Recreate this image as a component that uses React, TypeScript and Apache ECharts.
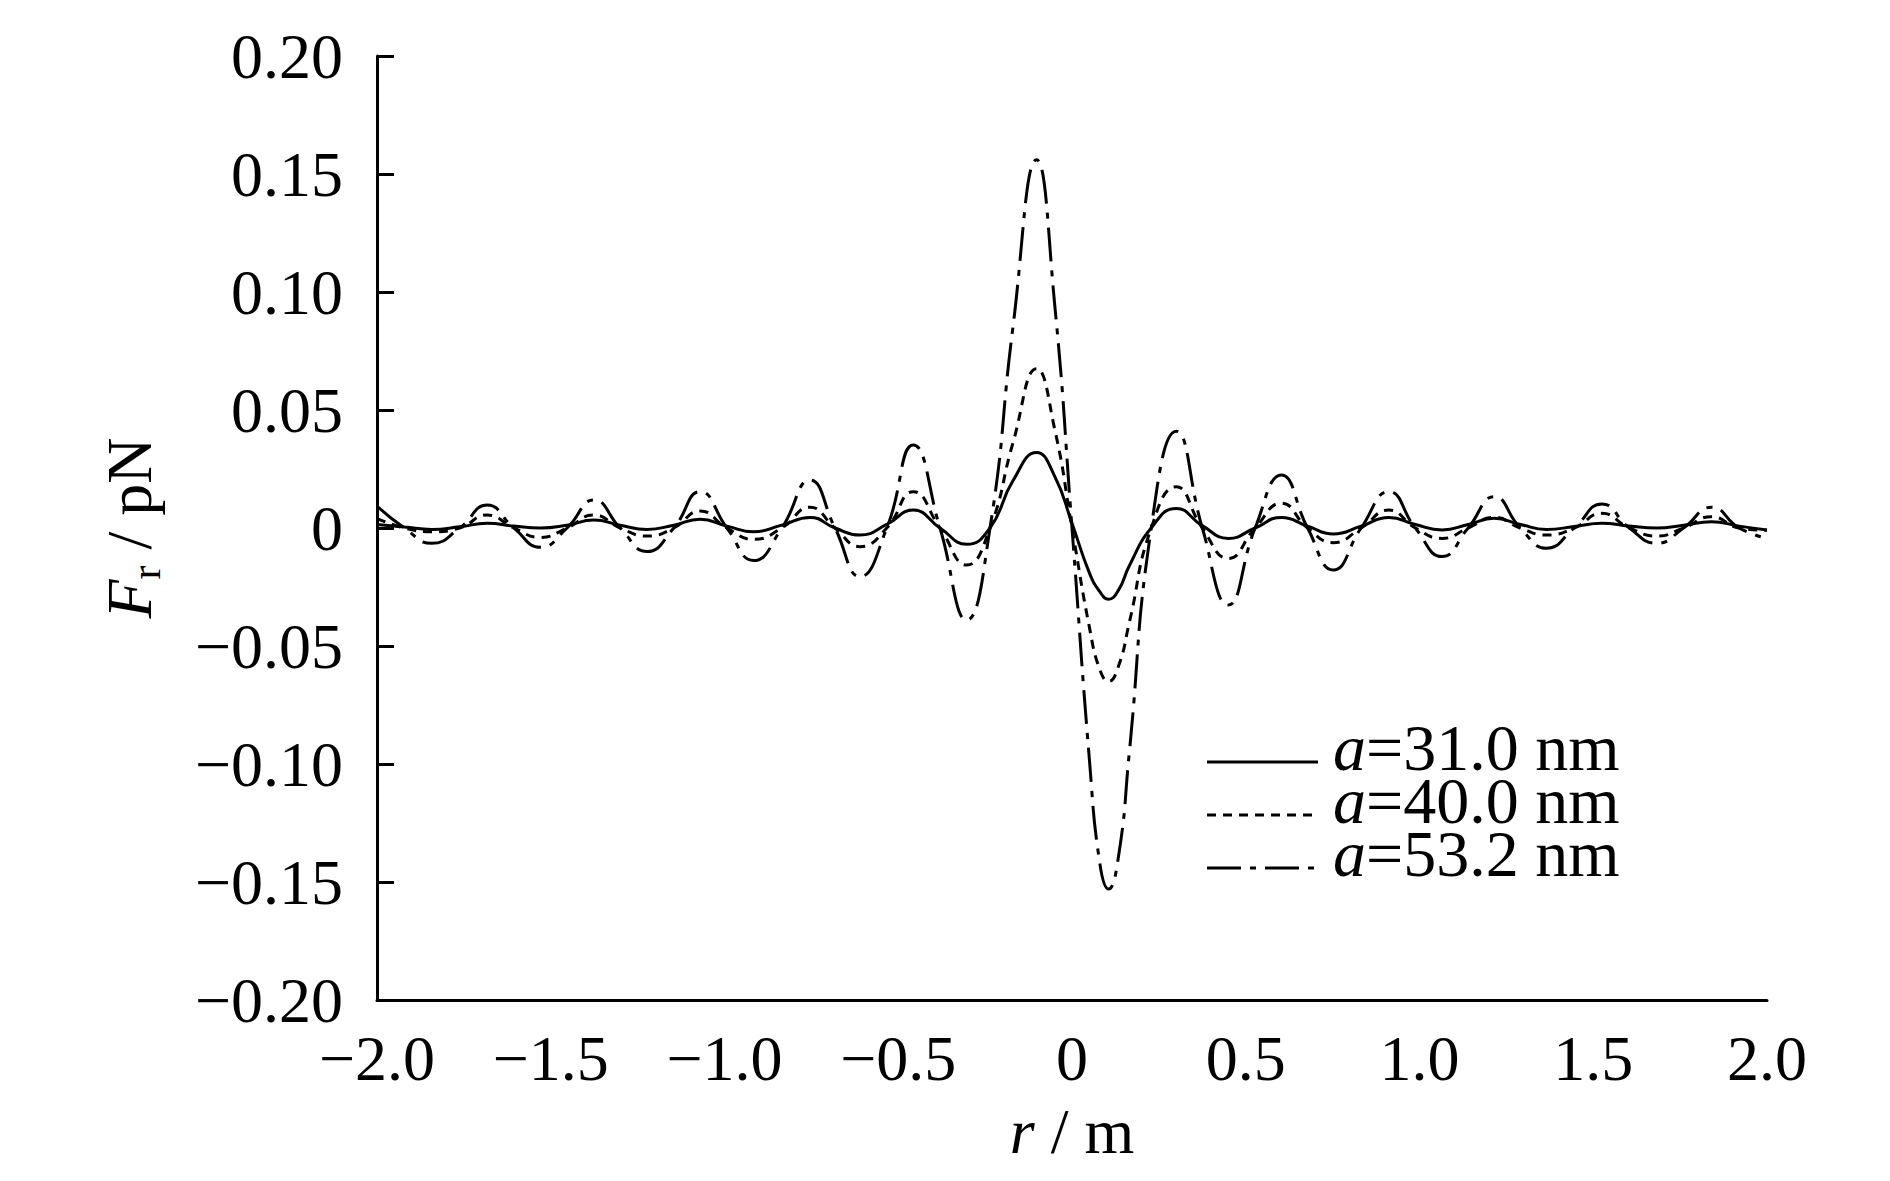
import React, { useEffect, useRef } from 'react';
import * as echarts from 'echarts';

// r values (m)
const R = [
  -2.0, -1.921, -1.842, -1.762, -1.683, -1.606, -1.53, -1.453, -1.376, -1.3, -1.223, -1.146,
  -1.07, -0.993, -0.916, -0.835, -0.754, -0.682, -0.61, -0.533, -0.457, -0.38, -0.303,
  -0.236, -0.17, -0.102, -0.05, 0.0, 0.05, 0.08, 0.105, 0.135, 0.165, 0.228,
  0.3, 0.375, 0.45, 0.527, 0.603, 0.678, 0.752, 0.832, 0.912, 0.988, 1.065, 1.14,
  1.215, 1.29, 1.366, 1.445, 1.525, 1.604, 1.683, 1.76, 1.84, 1.92, 2.0,
];

// a = 31.0 nm (solid)
const A31 = [
  0.0015, 0.0004, -0.0006, 0.0005, 0.002, 0.0008, 0.0, 0.0012, 0.0034, 0.0012, -0.0006, 0.0012,
  0.0037, 0.0008, -0.0016, 0.0012, 0.0045, 0.0, -0.003, 0.0015, 0.0076, 0.0, -0.0069,
  0.0, 0.02, 0.032, 0.022, 0.002, -0.019, -0.027, -0.0302, -0.026, -0.016, 0.0,
  0.0083, 0.001, -0.0044, 0.0, 0.0045, 0.0008, -0.0025, 0.0008, 0.0045, 0.0015, -0.0008, 0.0015,
  0.0041, 0.0015, -0.0006, 0.0006, 0.002, 0.0008, 0.0, 0.0012, 0.0027, 0.0008, -0.0008,
];

// a = 40.0 nm (dotted)
const A40 = [
  0.004, 0, -0.0016, 0, 0.0055, 0, -0.004, 0, 0.0055, 0, -0.0034, 0,
  0.0072, 0, -0.0048, 0, 0.0088, 0, -0.0079, 0, 0.0154, 0, -0.0157,
  0, 0.036, 0.0675, 0.042, 0, -0.042, -0.06, -0.065, -0.058, -0.04, 0,
  0.0175, 0, -0.0129, 0, 0.0105, 0, -0.0062, 0, 0.0076, 0, -0.0044, 0,
  0.0045, 0, -0.003, 0, 0.0062, 0, -0.0034, 0, 0.0048, 0, -0.001,
];

// a = 53.2 nm (dash-dot)
const A53 = [
  0.0093, 0, -0.0065, 0, 0.0097, 0, -0.0082, 0, 0.0119, 0, -0.01, 0,
  0.0154, 0, -0.0138, 0, 0.0203, 0, -0.0206, 0, 0.0352, 0, -0.039,
  0, 0.085, 0.156, 0.095, 0, -0.098, -0.142, -0.153, -0.138, -0.095, 0,
  0.041, 0, -0.0326, 0, 0.0225, 0, -0.0178, 0, 0.0154, 0, -0.0121, 0,
  0.0133, 0, -0.0086, 0, 0.0102, 0, -0.0065, 0, 0.0088, 0, -0.0044,
];

const SERIES_NAMES = ['a=31.0 nm', 'a=40.0 nm', 'a=53.2 nm'];
const DASHES: any[] = ['solid', [9, 7], [34, 9, 6, 9]];

const FONT = '"Liberation Serif", "Times New Roman", Times, serif';

const fmtX = (v: number) => {
  if (Math.abs(v) < 1e-9) return '0';
  const s = Math.abs(v).toFixed(1);
  return v < 0 ? '\u2212' + s : s;
};
const fmtY = (v: number) => {
  if (Math.abs(v) < 1e-9) return '0';
  const s = Math.abs(v).toFixed(2);
  return v < 0 ? '\u2212' + s : s;
};

export default function App() {
  const ref = useRef<HTMLDivElement>(null);
  useEffect(() => {
    if (!ref.current) return;
    const chart = echarts.init(ref.current, null, { renderer: 'svg' });
    const mk = (vals: number[]) => R.map((r, i) => [r, vals[i]]);
    const datas = [A31, A40, A53];

    // legend drawn as graphic (line sample + label)
    const legendEls: any[] = [];
    SERIES_NAMES.forEach((name, k) => {
      const y = 762 + k * 53;
      legendEls.push({
        type: 'line',
        shape: { x1: 1207, y1: y, x2: 1318, y2: y },
        style: {
          stroke: '#000',
          lineWidth: 3,
          lineDash: DASHES[k] === 'solid' ? null : DASHES[k],
        },
        silent: true,
      });
      legendEls.push({
        type: 'text',
        x: 1333,
        y: y - 15,
        style: {
          text: `{i|a}${name.slice(1)}`,
          fontFamily: FONT,
          fontSize: 66,
          lineHeight: 50,
          fill: '#000',
          verticalAlign: 'middle',
          align: 'left',
          rich: {
            i: { fontStyle: 'italic', fontFamily: FONT, fontSize: 66, lineHeight: 50, fill: '#000' },
          },
        },
        silent: true,
      });
    });

    chart.setOption({
      animation: false,
      backgroundColor: '#fff',
      grid: { left: 377, right: 123, top: 56, bottom: 181, containLabel: false },
      graphic: legendEls,
      xAxis: {
        type: 'value',
        min: -2,
        max: 2,
        interval: 0.5,
        name: '{i|r} / m',
        nameLocation: 'middle',
        nameGap: 99,
        nameTextStyle: {
          fontFamily: FONT,
          fontSize: 64,
          color: '#000',
          lineHeight: 64,
          rich: { i: { fontStyle: 'italic', fontSize: 64, fontFamily: FONT, color: '#000', lineHeight: 64 } },
        },
        axisLine: { onZero: false, lineStyle: { color: '#000', width: 3 } },
        axisTick: { show: false },
        splitLine: { show: false },
        axisLabel: {
          formatter: fmtX,
          fontFamily: FONT,
          fontSize: 64,
          color: '#000',
          margin: 26,
          lineHeight: 64,
        },
      },
      yAxis: {
        type: 'value',
        min: -0.2,
        max: 0.2,
        interval: 0.05,
        name: '{i|F}{s|r} / pN',
        nameLocation: 'middle',
        nameGap: 210,
        nameTextStyle: {
          fontFamily: FONT,
          fontSize: 64,
          color: '#000',
          lineHeight: 76,
          rich: {
            i: { fontStyle: 'italic', fontSize: 64, fontFamily: FONT, color: '#000', lineHeight: 76 },
            s: { fontSize: 42, fontFamily: FONT, color: '#000', lineHeight: 42, verticalAlign: 'bottom' },
          },
        },
        axisLine: { show: true, onZero: false, lineStyle: { color: '#000', width: 3 } },
        axisTick: { show: true, inside: true, length: 17, lineStyle: { color: '#000', width: 3 } },
        splitLine: { show: false },
        axisLabel: {
          formatter: fmtY,
          fontFamily: FONT,
          fontSize: 64,
          color: '#000',
          margin: 34,
        },
      },
      series: SERIES_NAMES.map((name, k) => ({
        name,
        type: 'line',
        data: mk(datas[k]),
        smooth: true,
        symbol: 'none',
        showSymbol: false,
        color: '#000',
        lineStyle: { color: '#000', width: 3, type: DASHES[k] },
        emphasis: { disabled: true },
      })),
    });
    return () => chart.dispose();
  }, []);
  return (
    <div
      ref={ref}
      style={{ position: 'fixed', left: 0, top: 0, width: 1890, height: 1181, background: '#fff' }}
    />
  );
}
